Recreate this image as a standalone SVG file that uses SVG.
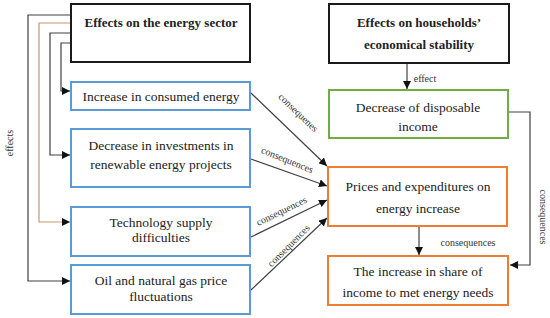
<svg xmlns="http://www.w3.org/2000/svg" width="550" height="318" viewBox="0 0 550 318">
<style>
.bg{fill:#fff}
.hdr{fill:#fff;stroke:#1a1a1a;stroke-width:2}
.blue{fill:#fff;stroke:#5b9bd5;stroke-width:2}
.green{fill:#fff;stroke:#70ad47;stroke-width:2}
.orange{fill:#fff;stroke:#ed7d31;stroke-width:2}
.t{font-family:"Liberation Serif","DejaVu Serif",serif;font-size:13.5px;fill:#222;text-anchor:middle}
.b{font-weight:bold;font-size:13px}
.s{font-family:"Liberation Serif","DejaVu Serif",serif;font-size:10px;fill:#333;text-anchor:middle}
.ln{fill:none;stroke:#404040;stroke-width:1.2}
.or{fill:none;stroke:#c8976f;stroke-width:1.2}
</style>
<defs>
<marker id="ah" viewBox="0 0 10 10" refX="10" refY="5" markerWidth="8" markerHeight="8" markerUnits="userSpaceOnUse" orient="auto">
<path d="M0,0 L10,5 L0,10 z" fill="#111"/>
</marker>
</defs>
<rect class="bg" x="0" y="0" width="550" height="318"/>
<g id="connectors">
<polyline class="ln" points="71,15 28,15 28,281 70,281" marker-end="url(#ah)"/>
<polyline class="or" points="71,23 39,23 39,222 70,222" marker-end="url(#ah)"/>
<polyline class="ln" points="71,33 50,33 50,155 70,155" marker-end="url(#ah)"/>
<polyline class="ln" points="71,43 61,43 61,91 70,91" marker-end="url(#ah)"/>
<line class="ln" x1="407" y1="63" x2="407" y2="89" marker-end="url(#ah)"/>
<polyline class="ln" points="509,112 530,112 530,265 510,265" marker-end="url(#ah)"/>
<line class="ln" x1="419" y1="226" x2="419" y2="255" marker-end="url(#ah)"/>
<line class="ln" x1="251" y1="93" x2="327" y2="166" marker-end="url(#ah)"/>
<line class="ln" x1="251" y1="159" x2="327" y2="186" marker-end="url(#ah)"/>
<line class="ln" x1="251" y1="237" x2="327" y2="200" marker-end="url(#ah)"/>
<line class="ln" x1="251" y1="290" x2="327" y2="218" marker-end="url(#ah)"/>
<text class="s" transform="translate(13,143) rotate(-90)">effects</text>
<text class="s" x="425" y="82">effect</text>
<text class="s" transform="translate(540,217) rotate(90)">consequences</text>
<text class="s" x="468" y="246">consequences</text>
<text class="s" transform="translate(296,115) rotate(44)">consequenes</text>
<text class="s" transform="translate(286,163) rotate(22)">consequences</text>
<text class="s" transform="translate(283,214) rotate(-26)">consequences</text>
<text class="s" transform="translate(291,248) rotate(-45)">consequences</text>
</g>
<g id="energy-sector">
<rect class="hdr" x="71" y="4" width="179" height="58"/>
<text class="t b" x="161" y="27">Effects on the energy sector</text>
</g>
<g id="households">
<rect class="hdr" x="329" y="4" width="180" height="59"/>
<text class="t b" x="419" y="27">Effects on households’</text>
<text class="t b" x="419" y="49">economical stability</text>
</g>
<g id="consumed-energy">
<rect class="blue" x="71" y="82" width="179" height="28"/>
<text class="t" x="161" y="101">Increase in consumed energy</text>
</g>
<g id="investments">
<rect class="blue" x="71" y="129" width="179" height="58"/>
<text class="t" x="161" y="150">Decrease in investments in</text>
<text class="t" x="161" y="169">renewable energy projects</text>
</g>
<g id="technology">
<rect class="blue" x="71" y="207" width="179" height="49"/>
<text class="t" x="161" y="227">Technology supply</text>
<text class="t" x="161" y="242">difficulties</text>
</g>
<g id="oil-gas">
<rect class="blue" x="71" y="265" width="179" height="49"/>
<text class="t" x="161" y="285">Oil and natural gas price</text>
<text class="t" x="161" y="301">fluctuations</text>
</g>
<g id="disposable-income">
<rect class="green" x="329" y="90" width="179" height="48"/>
<text class="t" x="418" y="112">Decrease of disposable</text>
<text class="t" x="418" y="131">income</text>
</g>
<g id="prices">
<rect class="orange" x="328" y="167" width="179" height="59"/>
<text class="t" x="418" y="191">Prices and expenditures on</text>
<text class="t" x="418" y="213">energy increase</text>
</g>
<g id="share-income">
<rect class="orange" x="328" y="256" width="180" height="49"/>
<text class="t" x="418" y="276">The increase in share of</text>
<text class="t" x="418" y="297">income to met energy needs</text>
</g>
</svg>
